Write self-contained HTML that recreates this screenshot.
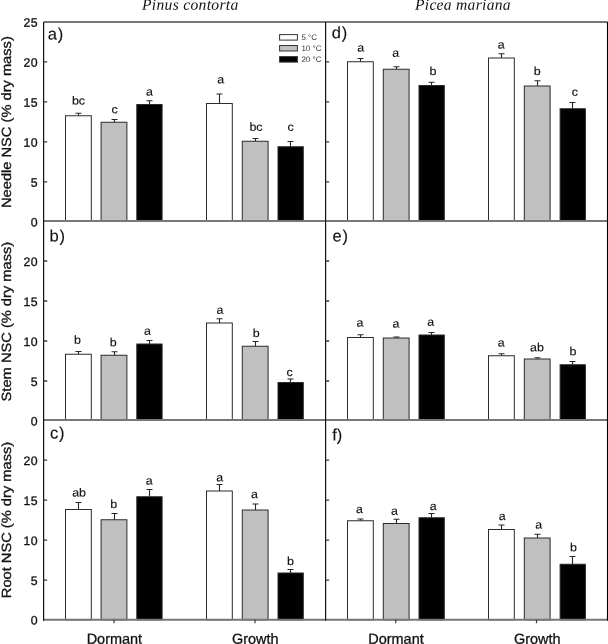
<!DOCTYPE html>
<html><head><meta charset="utf-8"><title>NSC chart</title>
<style>html,body{margin:0;padding:0;background:#fff}text{stroke:#111;stroke-width:0.3px}svg{display:block;will-change:transform;opacity:0.999}text{text-rendering:geometricPrecision}</style></head>
<body>
<svg width="608" height="644" viewBox="0 0 608 644" font-family="Liberation Sans, sans-serif" >
<rect width="608" height="644" fill="#fff"/>
<path d="M78.50 115.75V113.25M75.50 113.25H81.50" stroke="#262626" stroke-width="1.1" fill="none"/>
<rect x="65.50" y="115.75" width="25.80" height="105.30" fill="#ffffff" stroke="#2b2b2b" stroke-width="1"/>
<text transform="translate(78.50 104.60) rotate(0.05) scale(1.02 0.95)" font-size="12.2" text-anchor="middle" fill="#111" style="stroke-width:0.15px">bc</text>
<path d="M114.50 122.25V119.50M111.50 119.50H117.50" stroke="#262626" stroke-width="1.1" fill="none"/>
<rect x="101.10" y="122.25" width="25.80" height="98.80" fill="#c0c0c0" stroke="#2b2b2b" stroke-width="1"/>
<text transform="translate(114.60 113.35) rotate(0.05) scale(1.02 0.95)" font-size="12.2" text-anchor="middle" fill="#111" style="stroke-width:0.15px">c</text>
<path d="M149.50 104.50V100.75M146.50 100.75H152.50" stroke="#262626" stroke-width="1.1" fill="none"/>
<rect x="136.80" y="104.50" width="25.30" height="116.55" fill="#000000" stroke="#2b2b2b" stroke-width="1"/>
<text transform="translate(149.40 95.60) rotate(0.05) scale(1.02 0.95)" font-size="12.2" text-anchor="middle" fill="#111" style="stroke-width:0.15px">a</text>
<path d="M219.50 103.50V94.00M216.50 94.00H222.50" stroke="#262626" stroke-width="1.1" fill="none"/>
<rect x="206.50" y="103.50" width="25.80" height="117.55" fill="#ffffff" stroke="#2b2b2b" stroke-width="1"/>
<text transform="translate(220.60 83.35) rotate(0.05) scale(1.02 0.95)" font-size="12.2" text-anchor="middle" fill="#111" style="stroke-width:0.15px">a</text>
<path d="M255.50 141.25V138.50M252.50 138.50H258.50" stroke="#262626" stroke-width="1.1" fill="none"/>
<rect x="242.30" y="141.25" width="25.80" height="79.80" fill="#c0c0c0" stroke="#2b2b2b" stroke-width="1"/>
<text transform="translate(256.00 130.85) rotate(0.05) scale(1.02 0.95)" font-size="12.2" text-anchor="middle" fill="#111" style="stroke-width:0.15px">bc</text>
<path d="M290.50 146.75V141.50M287.50 141.50H293.50" stroke="#262626" stroke-width="1.1" fill="none"/>
<rect x="278.00" y="146.75" width="25.30" height="74.30" fill="#000000" stroke="#2b2b2b" stroke-width="1"/>
<text transform="translate(290.60 130.85) rotate(0.05) scale(1.02 0.95)" font-size="12.2" text-anchor="middle" fill="#111" style="stroke-width:0.15px">c</text>
<path d="M360.50 61.75V58.50M357.50 58.50H363.50" stroke="#262626" stroke-width="1.1" fill="none"/>
<rect x="347.50" y="61.75" width="25.80" height="159.30" fill="#ffffff" stroke="#2b2b2b" stroke-width="1"/>
<text transform="translate(360.75 51.60) rotate(0.05) scale(1.02 0.95)" font-size="12.2" text-anchor="middle" fill="#111" style="stroke-width:0.15px">a</text>
<path d="M396.50 69.25V66.75M393.50 66.75H399.50" stroke="#262626" stroke-width="1.1" fill="none"/>
<rect x="383.30" y="69.25" width="25.80" height="151.80" fill="#c0c0c0" stroke="#2b2b2b" stroke-width="1"/>
<text transform="translate(395.75 56.85) rotate(0.05) scale(1.02 0.95)" font-size="12.2" text-anchor="middle" fill="#111" style="stroke-width:0.15px">a</text>
<path d="M431.50 85.50V82.25M428.50 82.25H434.50" stroke="#262626" stroke-width="1.1" fill="none"/>
<rect x="419.00" y="85.50" width="25.30" height="135.55" fill="#000000" stroke="#2b2b2b" stroke-width="1"/>
<text transform="translate(432.90 75.10) rotate(0.05) scale(1.02 0.95)" font-size="12.2" text-anchor="middle" fill="#111" style="stroke-width:0.15px">b</text>
<path d="M501.50 58.00V53.75M498.50 53.75H504.50" stroke="#262626" stroke-width="1.1" fill="none"/>
<rect x="488.50" y="58.00" width="25.80" height="163.05" fill="#ffffff" stroke="#2b2b2b" stroke-width="1"/>
<text transform="translate(501.10 48.60) rotate(0.05) scale(1.02 0.95)" font-size="12.2" text-anchor="middle" fill="#111" style="stroke-width:0.15px">a</text>
<path d="M537.50 86.00V80.75M534.50 80.75H540.50" stroke="#262626" stroke-width="1.1" fill="none"/>
<rect x="524.30" y="86.00" width="25.80" height="135.05" fill="#c0c0c0" stroke="#2b2b2b" stroke-width="1"/>
<text transform="translate(537.25 75.10) rotate(0.05) scale(1.02 0.95)" font-size="12.2" text-anchor="middle" fill="#111" style="stroke-width:0.15px">b</text>
<path d="M572.50 108.75V102.50M569.50 102.50H575.50" stroke="#262626" stroke-width="1.1" fill="none"/>
<rect x="560.10" y="108.75" width="25.30" height="112.30" fill="#000000" stroke="#2b2b2b" stroke-width="1"/>
<text transform="translate(574.75 95.85) rotate(0.05) scale(1.02 0.95)" font-size="12.2" text-anchor="middle" fill="#111" style="stroke-width:0.15px">c</text>
<path d="M78.50 354.25V351.50M75.50 351.50H81.50" stroke="#262626" stroke-width="1.1" fill="none"/>
<rect x="65.50" y="354.25" width="25.80" height="65.80" fill="#ffffff" stroke="#2b2b2b" stroke-width="1"/>
<text transform="translate(77.50 343.85) rotate(0.05) scale(1.02 0.95)" font-size="12.2" text-anchor="middle" fill="#111" style="stroke-width:0.15px">b</text>
<path d="M114.50 355.25V351.75M111.50 351.75H117.50" stroke="#262626" stroke-width="1.1" fill="none"/>
<rect x="101.10" y="355.25" width="25.80" height="64.80" fill="#c0c0c0" stroke="#2b2b2b" stroke-width="1"/>
<text transform="translate(113.25 346.35) rotate(0.05) scale(1.02 0.95)" font-size="12.2" text-anchor="middle" fill="#111" style="stroke-width:0.15px">b</text>
<path d="M149.50 344.00V340.50M146.50 340.50H152.50" stroke="#262626" stroke-width="1.1" fill="none"/>
<rect x="136.80" y="344.00" width="25.30" height="76.05" fill="#000000" stroke="#2b2b2b" stroke-width="1"/>
<text transform="translate(147.40 334.85) rotate(0.05) scale(1.02 0.95)" font-size="12.2" text-anchor="middle" fill="#111" style="stroke-width:0.15px">a</text>
<path d="M219.50 323.00V318.75M216.50 318.75H222.50" stroke="#262626" stroke-width="1.1" fill="none"/>
<rect x="206.50" y="323.00" width="25.80" height="97.05" fill="#ffffff" stroke="#2b2b2b" stroke-width="1"/>
<text transform="translate(220.00 313.85) rotate(0.05) scale(1.02 0.95)" font-size="12.2" text-anchor="middle" fill="#111" style="stroke-width:0.15px">a</text>
<path d="M255.50 346.25V341.50M252.50 341.50H258.50" stroke="#262626" stroke-width="1.1" fill="none"/>
<rect x="242.30" y="346.25" width="25.80" height="73.80" fill="#c0c0c0" stroke="#2b2b2b" stroke-width="1"/>
<text transform="translate(256.25 337.10) rotate(0.05) scale(1.02 0.95)" font-size="12.2" text-anchor="middle" fill="#111" style="stroke-width:0.15px">b</text>
<path d="M290.50 382.50V379.00M287.50 379.00H293.50" stroke="#262626" stroke-width="1.1" fill="none"/>
<rect x="278.00" y="382.50" width="25.30" height="37.55" fill="#000000" stroke="#2b2b2b" stroke-width="1"/>
<text transform="translate(289.60 376.10) rotate(0.05) scale(1.02 0.95)" font-size="12.2" text-anchor="middle" fill="#111" style="stroke-width:0.15px">c</text>
<path d="M360.50 337.50V334.75M357.50 334.75H363.50" stroke="#262626" stroke-width="1.1" fill="none"/>
<rect x="347.50" y="337.50" width="25.80" height="82.55" fill="#ffffff" stroke="#2b2b2b" stroke-width="1"/>
<text transform="translate(360.00 326.60) rotate(0.05) scale(1.02 0.95)" font-size="12.2" text-anchor="middle" fill="#111" style="stroke-width:0.15px">a</text>
<path d="M396.50 338.00V337.00M393.50 337.00H399.50" stroke="#262626" stroke-width="1.1" fill="none"/>
<rect x="383.30" y="338.00" width="25.80" height="82.05" fill="#c0c0c0" stroke="#2b2b2b" stroke-width="1"/>
<text transform="translate(396.00 327.60) rotate(0.05) scale(1.02 0.95)" font-size="12.2" text-anchor="middle" fill="#111" style="stroke-width:0.15px">a</text>
<path d="M431.50 335.00V332.50M428.50 332.50H434.50" stroke="#262626" stroke-width="1.1" fill="none"/>
<rect x="419.00" y="335.00" width="25.30" height="85.05" fill="#000000" stroke="#2b2b2b" stroke-width="1"/>
<text transform="translate(430.75 325.85) rotate(0.05) scale(1.02 0.95)" font-size="12.2" text-anchor="middle" fill="#111" style="stroke-width:0.15px">a</text>
<path d="M501.50 355.75V353.75M498.50 353.75H504.50" stroke="#262626" stroke-width="1.1" fill="none"/>
<rect x="488.50" y="355.75" width="25.80" height="64.30" fill="#ffffff" stroke="#2b2b2b" stroke-width="1"/>
<text transform="translate(501.10 346.60) rotate(0.05) scale(1.02 0.95)" font-size="12.2" text-anchor="middle" fill="#111" style="stroke-width:0.15px">a</text>
<path d="M537.50 359.00V357.75M534.50 357.75H540.50" stroke="#262626" stroke-width="1.1" fill="none"/>
<rect x="524.30" y="359.00" width="25.80" height="61.05" fill="#c0c0c0" stroke="#2b2b2b" stroke-width="1"/>
<text transform="translate(536.90 351.35) rotate(0.05) scale(1.02 0.95)" font-size="12.2" text-anchor="middle" fill="#111" style="stroke-width:0.15px">ab</text>
<path d="M572.50 364.75V361.50M569.50 361.50H575.50" stroke="#262626" stroke-width="1.1" fill="none"/>
<rect x="560.10" y="364.75" width="25.30" height="55.30" fill="#000000" stroke="#2b2b2b" stroke-width="1"/>
<text transform="translate(573.00 355.35) rotate(0.05) scale(1.02 0.95)" font-size="12.2" text-anchor="middle" fill="#111" style="stroke-width:0.15px">b</text>
<path d="M78.50 509.50V502.50M75.50 502.50H81.50" stroke="#262626" stroke-width="1.1" fill="none"/>
<rect x="65.50" y="509.50" width="25.80" height="110.30" fill="#ffffff" stroke="#2b2b2b" stroke-width="1"/>
<text transform="translate(79.10 496.60) rotate(0.05) scale(1.02 0.95)" font-size="12.2" text-anchor="middle" fill="#111" style="stroke-width:0.15px">ab</text>
<path d="M114.50 519.75V513.50M111.50 513.50H117.50" stroke="#262626" stroke-width="1.1" fill="none"/>
<rect x="101.10" y="519.75" width="25.80" height="100.05" fill="#c0c0c0" stroke="#2b2b2b" stroke-width="1"/>
<text transform="translate(113.75 508.10) rotate(0.05) scale(1.02 0.95)" font-size="12.2" text-anchor="middle" fill="#111" style="stroke-width:0.15px">b</text>
<path d="M149.50 496.75V489.50M146.50 489.50H152.50" stroke="#262626" stroke-width="1.1" fill="none"/>
<rect x="136.80" y="496.75" width="25.30" height="123.05" fill="#000000" stroke="#2b2b2b" stroke-width="1"/>
<text transform="translate(149.30 484.60) rotate(0.05) scale(1.02 0.95)" font-size="12.2" text-anchor="middle" fill="#111" style="stroke-width:0.15px">a</text>
<path d="M219.50 491.00V484.50M216.50 484.50H222.50" stroke="#262626" stroke-width="1.1" fill="none"/>
<rect x="206.50" y="491.00" width="25.80" height="128.80" fill="#ffffff" stroke="#2b2b2b" stroke-width="1"/>
<text transform="translate(219.60 481.20) rotate(0.05) scale(1.02 0.95)" font-size="12.2" text-anchor="middle" fill="#111" style="stroke-width:0.15px">a</text>
<path d="M255.50 510.00V504.00M252.50 504.00H258.50" stroke="#262626" stroke-width="1.1" fill="none"/>
<rect x="242.30" y="510.00" width="25.80" height="109.80" fill="#c0c0c0" stroke="#2b2b2b" stroke-width="1"/>
<text transform="translate(254.50 498.10) rotate(0.05) scale(1.02 0.95)" font-size="12.2" text-anchor="middle" fill="#111" style="stroke-width:0.15px">a</text>
<path d="M290.50 573.00V569.50M287.50 569.50H293.50" stroke="#262626" stroke-width="1.1" fill="none"/>
<rect x="278.00" y="573.00" width="25.30" height="46.80" fill="#000000" stroke="#2b2b2b" stroke-width="1"/>
<text transform="translate(290.40 565.10) rotate(0.05) scale(1.02 0.95)" font-size="12.2" text-anchor="middle" fill="#111" style="stroke-width:0.15px">b</text>
<path d="M360.50 520.75V519.00M357.50 519.00H363.50" stroke="#262626" stroke-width="1.1" fill="none"/>
<rect x="347.50" y="520.75" width="25.80" height="99.05" fill="#ffffff" stroke="#2b2b2b" stroke-width="1"/>
<text transform="translate(359.40 513.10) rotate(0.05) scale(1.02 0.95)" font-size="12.2" text-anchor="middle" fill="#111" style="stroke-width:0.15px">a</text>
<path d="M396.50 523.50V519.25M393.50 519.25H399.50" stroke="#262626" stroke-width="1.1" fill="none"/>
<rect x="383.30" y="523.50" width="25.80" height="96.30" fill="#c0c0c0" stroke="#2b2b2b" stroke-width="1"/>
<text transform="translate(394.40 514.85) rotate(0.05) scale(1.02 0.95)" font-size="12.2" text-anchor="middle" fill="#111" style="stroke-width:0.15px">a</text>
<path d="M431.50 517.75V513.50M428.50 513.50H434.50" stroke="#262626" stroke-width="1.1" fill="none"/>
<rect x="419.00" y="517.75" width="25.30" height="102.05" fill="#000000" stroke="#2b2b2b" stroke-width="1"/>
<text transform="translate(433.10 510.10) rotate(0.05) scale(1.02 0.95)" font-size="12.2" text-anchor="middle" fill="#111" style="stroke-width:0.15px">a</text>
<path d="M501.50 529.50V525.00M498.50 525.00H504.50" stroke="#262626" stroke-width="1.1" fill="none"/>
<rect x="488.50" y="529.50" width="25.80" height="90.30" fill="#ffffff" stroke="#2b2b2b" stroke-width="1"/>
<text transform="translate(502.10 520.10) rotate(0.05) scale(1.02 0.95)" font-size="12.2" text-anchor="middle" fill="#111" style="stroke-width:0.15px">a</text>
<path d="M537.50 538.00V534.25M534.50 534.25H540.50" stroke="#262626" stroke-width="1.1" fill="none"/>
<rect x="524.30" y="538.00" width="25.80" height="81.80" fill="#c0c0c0" stroke="#2b2b2b" stroke-width="1"/>
<text transform="translate(538.60 528.60) rotate(0.05) scale(1.02 0.95)" font-size="12.2" text-anchor="middle" fill="#111" style="stroke-width:0.15px">a</text>
<path d="M572.50 564.25V556.50M569.50 556.50H575.50" stroke="#262626" stroke-width="1.1" fill="none"/>
<rect x="560.10" y="564.25" width="25.30" height="55.55" fill="#000000" stroke="#2b2b2b" stroke-width="1"/>
<text transform="translate(573.50 551.35) rotate(0.05) scale(1.02 0.95)" font-size="12.2" text-anchor="middle" fill="#111" style="stroke-width:0.15px">b</text>
<path d="M43.6 21.95H607.5" stroke="#777" stroke-width="1.9" fill="none"/>
<path d="M43.6 221.05H607.5" stroke="#777" stroke-width="1.9" fill="none"/>
<path d="M43.6 420.05H607.5" stroke="#777" stroke-width="1.9" fill="none"/>
<path d="M43.6 619.8H607.5" stroke="#777" stroke-width="1.9" fill="none"/>
<path d="M43.6 21.95V620.75" stroke="#111" stroke-width="1.2" fill="none"/>
<path d="M325.6 21.95V620.75" stroke="#111" stroke-width="1.2" fill="none"/>
<path d="M607.5 21.95V620.75" stroke="#000" stroke-width="1.1" fill="none"/>
<path d="M43.6 181.9h3.6M325.6 181.9h3.6" stroke="#3a3a3a" stroke-width="1.3" fill="none"/>
<path d="M43.6 141.9h3.6M325.6 141.9h3.6" stroke="#3a3a3a" stroke-width="1.3" fill="none"/>
<path d="M43.6 101.9h3.6M325.6 101.9h3.6" stroke="#3a3a3a" stroke-width="1.3" fill="none"/>
<path d="M43.6 61.900000000000006h3.6M325.6 61.900000000000006h3.6" stroke="#3a3a3a" stroke-width="1.3" fill="none"/>
<path d="M43.6 381.0h3.6M325.6 381.0h3.6" stroke="#3a3a3a" stroke-width="1.3" fill="none"/>
<path d="M43.6 341.0h3.6M325.6 341.0h3.6" stroke="#3a3a3a" stroke-width="1.3" fill="none"/>
<path d="M43.6 301.0h3.6M325.6 301.0h3.6" stroke="#3a3a3a" stroke-width="1.3" fill="none"/>
<path d="M43.6 261.0h3.6M325.6 261.0h3.6" stroke="#3a3a3a" stroke-width="1.3" fill="none"/>
<path d="M43.6 580.1h3.6M325.6 580.1h3.6" stroke="#3a3a3a" stroke-width="1.3" fill="none"/>
<path d="M43.6 540.1h3.6M325.6 540.1h3.6" stroke="#3a3a3a" stroke-width="1.3" fill="none"/>
<path d="M43.6 500.1h3.6M325.6 500.1h3.6" stroke="#3a3a3a" stroke-width="1.3" fill="none"/>
<path d="M43.6 460.1h3.6M325.6 460.1h3.6" stroke="#3a3a3a" stroke-width="1.3" fill="none"/>
<path d="M114 619.8v3.4" stroke="#3a3a3a" stroke-width="1.2" fill="none"/>
<path d="M255 619.8v3.4" stroke="#3a3a3a" stroke-width="1.2" fill="none"/>
<path d="M395.75 619.8v3.4" stroke="#3a3a3a" stroke-width="1.2" fill="none"/>
<path d="M536.5 619.8v3.4" stroke="#3a3a3a" stroke-width="1.2" fill="none"/>
<text transform="translate(38.3 226.40) rotate(0.05)" font-size="12.3" letter-spacing="0.6" text-anchor="end" fill="#111" style="stroke-width:0.3px">0</text>
<text transform="translate(38.3 186.80) rotate(0.05)" font-size="12.3" letter-spacing="0.6" text-anchor="end" fill="#111" style="stroke-width:0.3px">5</text>
<text transform="translate(38.3 146.80) rotate(0.05)" font-size="12.3" letter-spacing="0.6" text-anchor="end" fill="#111" style="stroke-width:0.3px">10</text>
<text transform="translate(38.3 106.80) rotate(0.05)" font-size="12.3" letter-spacing="0.6" text-anchor="end" fill="#111" style="stroke-width:0.3px">15</text>
<text transform="translate(38.3 66.80) rotate(0.05)" font-size="12.3" letter-spacing="0.6" text-anchor="end" fill="#111" style="stroke-width:0.3px">20</text>
<text transform="translate(38.3 26.80) rotate(0.05)" font-size="12.3" letter-spacing="0.6" text-anchor="end" fill="#111" style="stroke-width:0.3px">25</text>
<text transform="translate(38.3 425.50) rotate(0.05)" font-size="12.3" letter-spacing="0.6" text-anchor="end" fill="#111" style="stroke-width:0.3px">0</text>
<text transform="translate(38.3 385.90) rotate(0.05)" font-size="12.3" letter-spacing="0.6" text-anchor="end" fill="#111" style="stroke-width:0.3px">5</text>
<text transform="translate(38.3 345.90) rotate(0.05)" font-size="12.3" letter-spacing="0.6" text-anchor="end" fill="#111" style="stroke-width:0.3px">10</text>
<text transform="translate(38.3 305.90) rotate(0.05)" font-size="12.3" letter-spacing="0.6" text-anchor="end" fill="#111" style="stroke-width:0.3px">15</text>
<text transform="translate(38.3 265.90) rotate(0.05)" font-size="12.3" letter-spacing="0.6" text-anchor="end" fill="#111" style="stroke-width:0.3px">20</text>
<text transform="translate(38.3 624.60) rotate(0.05)" font-size="12.3" letter-spacing="0.6" text-anchor="end" fill="#111" style="stroke-width:0.3px">0</text>
<text transform="translate(38.3 585.00) rotate(0.05)" font-size="12.3" letter-spacing="0.6" text-anchor="end" fill="#111" style="stroke-width:0.3px">5</text>
<text transform="translate(38.3 545.00) rotate(0.05)" font-size="12.3" letter-spacing="0.6" text-anchor="end" fill="#111" style="stroke-width:0.3px">10</text>
<text transform="translate(38.3 505.00) rotate(0.05)" font-size="12.3" letter-spacing="0.6" text-anchor="end" fill="#111" style="stroke-width:0.3px">15</text>
<text transform="translate(38.3 465.00) rotate(0.05)" font-size="12.3" letter-spacing="0.6" text-anchor="end" fill="#111" style="stroke-width:0.3px">20</text>
<text transform="translate(47.70 39.60) rotate(0.05)" font-size="16.5" letter-spacing="0.8" fill="#111" style="stroke-width:0.12px">a)</text>
<text transform="translate(49.50 241.50) rotate(0.05)" font-size="16.5" letter-spacing="0.8" fill="#111" style="stroke-width:0.12px">b)</text>
<text transform="translate(49.95 438.50) rotate(0.05)" font-size="16.5" letter-spacing="0.8" fill="#111" style="stroke-width:0.12px">c)</text>
<text transform="translate(331.65 38.30) rotate(0.05)" font-size="16.5" letter-spacing="0.8" fill="#111" style="stroke-width:0.12px">d)</text>
<text transform="translate(332.60 241.60) rotate(0.05)" font-size="16.5" letter-spacing="0.8" fill="#111" style="stroke-width:0.12px">e)</text>
<text transform="translate(332.15 440.60) rotate(0.05)" font-size="16.5" letter-spacing="0.0" fill="#111" style="stroke-width:0.12px">f)</text>
<text transform="translate(142 9.7) rotate(0.05)" font-family="Liberation Serif, serif" font-style="italic" font-size="15.6" textLength="96.3" lengthAdjust="spacing" fill="#111" stroke="none" style="stroke:none">Pinus contorta</text>
<text transform="translate(415 9.7) rotate(0.05)" font-family="Liberation Serif, serif" font-style="italic" font-size="15.6" textLength="95.6" lengthAdjust="spacing" fill="#111" stroke="none" style="stroke:none">Picea mariana</text>
<text transform="translate(86.65 643.8) rotate(0.05)" font-size="14.5" textLength="55.5" lengthAdjust="spacingAndGlyphs" fill="#111">Dormant</text>
<text transform="translate(231.95 643.8) rotate(0.05)" font-size="14.5" textLength="46.5" lengthAdjust="spacingAndGlyphs" fill="#111">Growth</text>
<text transform="translate(368.25 643.8) rotate(0.05)" font-size="14.5" textLength="55.5" lengthAdjust="spacingAndGlyphs" fill="#111">Dormant</text>
<text transform="translate(513.95 643.8) rotate(0.05)" font-size="14.5" textLength="46.5" lengthAdjust="spacingAndGlyphs" fill="#111">Growth</text>
<text transform="translate(10.8 208.00) rotate(-90)" font-size="13.3" textLength="171.80" lengthAdjust="spacingAndGlyphs" fill="#111">Needle NSC (% dry mass)</text>
<text transform="translate(10.8 401.40) rotate(-90)" font-size="13.3" textLength="159.60" lengthAdjust="spacingAndGlyphs" fill="#111">Stem NSC (% dry mass)</text>
<text transform="translate(10.8 598.20) rotate(-90)" font-size="13.3" textLength="156.40" lengthAdjust="spacingAndGlyphs" fill="#111">Root NSC (% dry mass)</text>
<rect x="279.6" y="34.6" width="17.8" height="5.5" fill="#ffffff" stroke="#333" stroke-width="1"/>
<text transform="translate(301.4 40.00) rotate(0.05)" font-size="8" fill="#333" style="stroke:none">5 °C</text>
<rect x="279.6" y="45.5" width="17.8" height="5.5" fill="#c0c0c0" stroke="#333" stroke-width="1"/>
<text transform="translate(301.4 50.90) rotate(0.05)" font-size="8" fill="#333" style="stroke:none">10 °C</text>
<rect x="279.6" y="56.6" width="17.8" height="5.5" fill="#000000" stroke="#333" stroke-width="1"/>
<text transform="translate(301.4 62.00) rotate(0.05)" font-size="8" fill="#333" style="stroke:none">20 °C</text>
</svg>
</body></html>
